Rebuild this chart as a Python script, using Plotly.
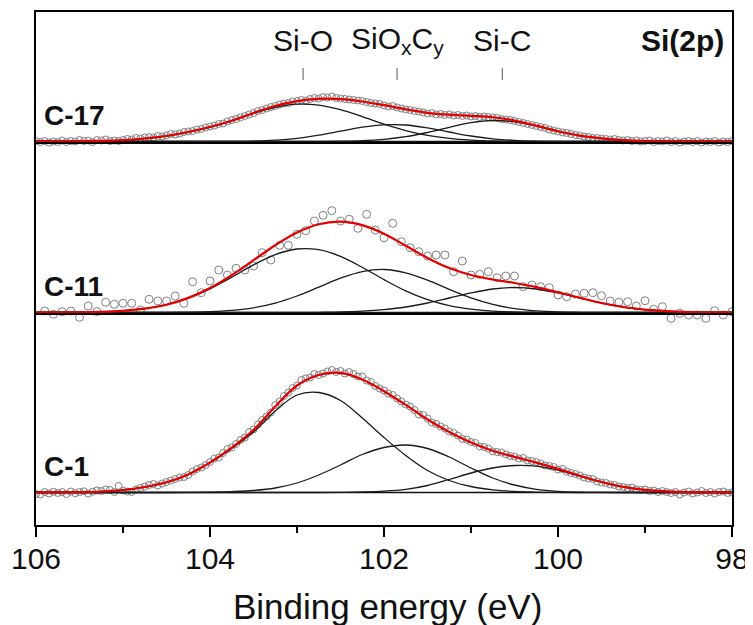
import numpy as np
import plotly.graph_objects as go

# ---------------- data ----------------
# fit grid (binding energy, eV)
E_fit = [106.0, 105.75, 105.5, 105.25, 105.0, 104.75, 104.5, 104.25, 104.0, 103.75, 103.5,
         103.25, 103.0, 102.75, 102.5, 102.25, 102.0, 101.75, 101.5, 101.25, 101.0, 100.75,
         100.5, 100.25, 100.0, 99.75, 99.5, 99.25, 99.0, 98.75, 98.5, 98.25, 98.0]

# fitted components (a.u., above each baseline)
c1_SiO = [0, 0.1, 0.4, 1.0, 2.5, 5.5, 10.2, 18, 29.7, 44, 60.5, 81.5, 97.5, 100, 92, 74.5, 55, 37,
          22, 12, 6, 2.7, 1.1, 0.4, 0.1, 0, 0, 0, 0, 0, 0, 0, 0]
c1_SiOC = [0, 0, 0, 0, 0, 0, 0, 0.1, 0.3, 0.9, 2, 4.5, 9.5, 17.5, 27.5, 38, 45, 47.5, 44, 35.5,
           24.5, 14.5, 7.5, 3.2, 1.2, 0.4, 0.1, 0, 0, 0, 0, 0, 0]
c1_SiC = [0, 0, 0, 0, 0, 0, 0, 0, 0, 0, 0, 0, 0, 0, 0.15, 0.5, 1.3, 3.1, 7, 13, 19.5, 24.5, 27,
          26.3, 22.3, 16.4, 10.4, 5.6, 2.7, 1.1, 0.4, 0.1, 0]

c11_SiO = [0, 0.1, 0.25, 0.7, 1.7, 3.8, 7.8, 14.3, 23.7, 35.3, 47.6, 57.9, 63.5, 62.8, 56.1, 45.2,
           32.9, 21.6, 12.8, 6.8, 3.3, 1.4, 0.56, 0.2, 0, 0, 0, 0, 0, 0, 0, 0, 0]
c11_SiOC = [0, 0, 0, 0, 0, 0, 0, 0.3, 0.8, 2.1, 4.7, 9.4, 16.5, 25.3, 34.3, 40.9, 43.0, 39.7, 32.3,
            23.1, 14.6, 8.1, 3.9, 1.7, 0.6, 0.2, 0, 0, 0, 0, 0, 0, 0]
c11_SiC = [0, 0, 0, 0, 0, 0, 0, 0, 0, 0, 0, 0, 0, 0.2, 0.5, 1.3, 2.9, 5.5, 9.5, 14.5, 19.6, 23.5,
           25, 23.5, 19.6, 14.5, 9.5, 5.5, 2.9, 1.3, 0.5, 0.2, 0]

c17_SiO = [0, 0.1, 0.2, 0.6, 1.4, 3.0, 5.5, 9.5, 14.5, 20.6, 28.1, 34.2, 37.3, 36.4, 31.8, 24.9,
           17.4, 10.9, 6.1, 3.1, 1.4, 0.55, 0.2, 0, 0, 0, 0, 0, 0, 0, 0, 0, 0]
c17_SiOC = [0, 0, 0, 0, 0, 0, 0, 0, 0, 0.15, 0.45, 1.3, 3.1, 6.3, 10.3, 14.3, 16.7, 16.5, 13.6,
            9.5, 5.5, 2.7, 1.1, 0.35, 0.1, 0, 0, 0, 0, 0, 0, 0, 0]
c17_SiC = [0, 0, 0, 0, 0, 0, 0, 0, 0, 0, 0, 0, 0, 0, 0.26, 0.8, 2.2, 4.8, 9.0, 14.2, 18.8, 21.0,
           19.6, 15.5, 10.2, 5.9, 3.2, 1.4, 0.5, 0.15, 0, 0, 0]

# measured points
E_dense = np.round(np.linspace(106.0, 98.0, 161), 2)   # C-1 and C-17, 0.05 eV step
E_c11 = np.round(np.linspace(105.9, 98.0, 80), 2)      # C-11, 0.1 eV step

pts_c1 = [-1.5, -2.0, 0.5, -1.0, 0.8, -0.5, 0.5, -1.5, 1.0, -0.8, 0.5, 1.2, -1.0, 0.8, 2.0, 1.5,
          3.0, 2.5, 0.5, 6.5, 2.0, 1.0, 0.5, 3.0, 4.5, 6.0, 7.5, 8.5, 7.0, 9.0, 10.5, 12.0, 13.5,
          15.0, 15.5, 17.5, 21.0, 23.5, 25.0, 27.5, 30.5, 34.0, 35.0, 39.5, 43.5, 45.0, 48.5, 52.5,
          55.0, 60.5, 63.0, 68.0, 72.5, 76.0, 80.0, 87.5, 91.0, 96.5, 100.0, 104.5, 107.0, 112.5,
          114.0, 115.0, 118.5, 117.5, 119.0, 121.0, 122.5, 120.5, 121.5, 119.0, 120.5, 118.5,
          116.0, 116.0, 112.0, 110.5, 106.5, 104.0, 102.0, 99.0, 97.5, 94.0, 91.0, 88.0, 86.0,
          82.5, 78.0, 77.5, 74.0, 70.0, 68.5, 66.0, 64.0, 61.0, 59.5, 57.0, 53.5, 53.0, 50.5, 49.5,
          46.0, 45.5, 44.0, 41.0, 40.5, 40.0, 38.0, 36.5, 36.0, 34.0, 34.5, 32.0, 31.5, 30.5, 29.0,
          27.0, 26.5, 25.5, 23.0, 23.5, 21.0, 19.5, 18.5, 17.0, 15.0, 14.0, 13.5, 11.0, 10.0, 9.5,
          8.0, 7.5, 6.0, 5.5, 4.5, 5.0, 3.0, 2.5, 3.0, 1.5, 2.0, 0.5, 1.5, 0.5, -0.5, 0.5, -2.0,
          0.0, 1.0, -1.0, 0.0, 1.5, -0.5, 0.5, -1.0, 0.5, 1.0, -0.5, 0.0]

pts_c11 = [1.5, -1.8, 0.8, 1.5, -4.8, 6.5, 1.0, 10.2, 8.2, 9.2, 9.2, 2.5, 13.2, 11.5, 11.5, 16.5,
           9.2, 30.8, 19.8, 31.5, 42.5, 37.5, 44.2, 42.5, 46.5, 59.8, 52.5, 67.2, 67.2, 78.2, 81.8,
           91.5, 97.2, 101.8, 91.5, 93.2, 84.2, 98.2, 82.5,
           74.8, 89.2, 70.8, 64.8, 60.8, 56.5, 57.5, 57.5, 40.8, 51.5, 37.5, 38.2, 40.8, 34.8, 36.5,
           36.5, 25.8, 27.5, 25.8, 24.8, 17.5, 15.8, 18.5, 19.2, 19.8, 16.8, 11.5, 10.2, 10.8, 6.5,
           11.8, 3.2, 5.8, -5.8, -0.8, -2.5, -2.5, -5.8, 1.8, -2.5, 0.8]

pts_c17 = [0.5, -0.5, 0.5, -1.0, 0.0, -0.5, 1.0, -0.5, 0.5, 0.0, 1.5, 0.5, 1.0, -0.5, 1.5, 1.0,
           2.0, 0.5, 1.0, 0.5, 1.5, 2.5, 2.0, 3.5, 3.0, 4.0, 4.5, 4.0, 5.5, 5.0, 6.0, 7.5, 7.0, 8.0,
           9.5, 10.0, 10.5, 12.0, 12.5, 14.0, 15.0, 16.0, 17.5, 18.0, 20.0, 21.5, 22.5, 24.0, 25.5,
           27.0, 28.5, 30.5, 31.5, 33.0, 34.5, 35.5, 37.0, 38.0, 38.5, 40.0, 40.5, 41.5, 41.0, 42.5,
           43.5, 43.0, 44.5, 44.0, 45.0, 43.5, 43.0, 42.5, 42.0, 41.5, 41.0, 40.5, 39.5, 38.5, 38.0,
           37.5, 36.0, 35.0, 35.5, 34.0, 33.0, 32.0, 31.5, 30.5, 30.0, 29.0, 28.0, 28.5, 27.0, 27.5,
           26.5, 27.0, 26.0, 26.5, 25.5, 26.0, 25.0, 25.5, 24.5, 25.0, 24.5, 24.0, 23.5, 22.5, 22.0,
           21.5, 20.5, 19.5, 18.5, 17.5, 16.5, 15.5, 14.5, 13.5, 12.0, 11.0, 10.0, 9.0, 8.5, 7.5,
           6.5, 6.0, 5.0, 4.5, 3.5, 3.5, 3.0, 2.5, 2.0, 2.5, 1.5, 1.0, 1.5, 0.5, 1.0, 0.0, 0.5, 1.0,
           -0.5, 0.5, 0.0, 1.0, -0.5, 0.5, -1.0, 0.0, 0.5, -0.5, 0.5, -1.0, 0.0, -0.5, 0.5, -1.0,
           0.0, -0.5, 0.5]

samples = ["C-1", "C-11", "C-17"]
offsets = [0, 180, 351]
separators = [178.5, 349.5]

peak_names = ["Si-O", "SiO<sub>x</sub>C<sub>y</sub>", "Si-C"]
peak_positions = [102.93, 101.85, 100.64]

x_ticks = [106, 104, 102, 100, 98]
x_minor = [105, 103, 101, 99]

# ---------------- figure ----------------
FONT = "Liberation Sans, Arial, sans-serif"
fig = go.Figure()

panels = [
    (E_dense, pts_c1, [c1_SiO, c1_SiOC, c1_SiC], 7),
    (E_c11, pts_c11, [c11_SiO, c11_SiOC, c11_SiC], 8),
    (E_dense, pts_c17, [c17_SiO, c17_SiOC, c17_SiC], 7),
]

for (ex, pts, comps, msize), off in zip(panels, offsets):
    fig.add_trace(go.Scatter(
        x=ex, y=np.array(pts) + off, mode="markers",
        marker=dict(symbol="circle-open", size=msize, color="#7f7f7f", line=dict(width=1)),
        hoverinfo="skip"))
    fig.add_trace(go.Scatter(
        x=[E_fit[0], E_fit[-1]], y=[off, off], mode="lines",
        line=dict(color="#111111", width=1.3), hoverinfo="skip"))
    for comp in comps:
        fig.add_trace(go.Scatter(
            x=E_fit, y=np.array(comp) + off, mode="lines",
            line=dict(color="#1a1a1a", width=1.3, shape="spline", smoothing=1.0),
            hoverinfo="skip"))
    env = np.sum(np.array(comps), axis=0) + off
    fig.add_trace(go.Scatter(
        x=E_fit, y=env, mode="lines",
        line=dict(color="#e50000", width=2.2, shape="spline", smoothing=1.0),
        hoverinfo="skip"))

shapes = []
for s in separators:
    shapes.append(dict(type="line", xref="paper", yref="y", x0=0, x1=1, y0=s, y1=s,
                       line=dict(color="black", width=2)))
for p in peak_positions:
    shapes.append(dict(type="line", xref="x", yref="paper", x0=p, x1=p, y0=0.8674, y1=0.8908,
                       line=dict(color="#555555", width=1)))

annotations = []
for name, p in zip(peak_names, peak_positions):
    annotations.append(dict(text=name, x=p, xref="x", y=0.9435, yref="paper",
                            xanchor="center", yanchor="middle", showarrow=False,
                            font=dict(family=FONT, size=30, color="#111111")))
annotations.append(dict(text="<b>Si(2p)</b>", x=0.991, xref="paper", y=0.944, yref="paper",
                        xanchor="right", yanchor="middle", showarrow=False,
                        font=dict(family=FONT, size=30, color="#111111")))
label_y = [0.1136, 0.4645, 0.7992]
for name, ly in zip(samples, label_y):
    annotations.append(dict(text="<b>" + name + "</b>", x=0.0086, xref="paper", y=ly,
                            yref="paper", xanchor="left", yanchor="middle", showarrow=False,
                            font=dict(family=FONT, size=28, color="#111111")))
annotations.append(dict(text="Binding energy (eV)", x=0.5057, xref="paper", y=-0.158,
                        yref="paper", xanchor="center", yanchor="middle", showarrow=False,
                        font=dict(family=FONT, size=35, color="#111111")))

# the page body adds an 8 px margin, so the figure is placed to compensate
fig.update_layout(
    width=745, height=617,
    margin=dict(l=28, r=21, t=4, b=100, autoexpand=False),
    paper_bgcolor="white", plot_bgcolor="white",
    showlegend=False,
    shapes=shapes, annotations=annotations,
    xaxis=dict(range=[106, 98], tickvals=x_ticks, ticktext=[str(t) for t in x_ticks],
               ticks="outside", ticklen=10, tickwidth=1.5, tickcolor="black",
               ticklabelstandoff=-4,
               showline=True, linecolor="black", linewidth=2, mirror=True,
               showgrid=False, zeroline=False, automargin=False,
               tickfont=dict(family=FONT, size=30, color="#111111"),
               minor=dict(tickvals=x_minor, ticks="outside", ticklen=6, tickwidth=1.5,
                          tickcolor="black", showgrid=False)),
    yaxis=dict(range=[-32.5, 480.5], showticklabels=False, ticks="",
               showline=True, linecolor="black", linewidth=2, mirror=True,
               showgrid=False, zeroline=False, automargin=False),
)

fig.write_html("out.html")
